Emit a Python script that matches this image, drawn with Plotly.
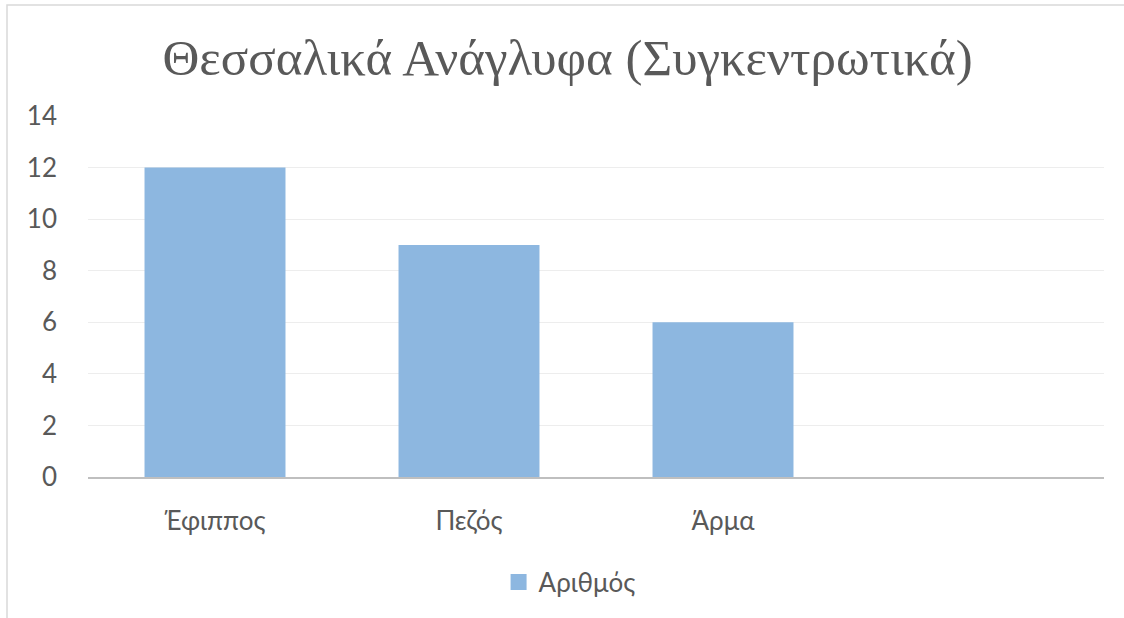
import plotly.graph_objects as go

categories = ["Έφιππος", "Πεζός", "Άρμα"]
values = [12, 9, 6]
series_name = "Αριθμός"
y_ticks = [0, 2, 4, 6, 8, 10, 12, 14]
title_text = "Θεσσαλικά Ανάγλυφα (Συγκεντρωτικά)"

sans = "Lato, 'Noto Sans', 'Liberation Sans', sans-serif"
grey = "#595959"
bar_color = "#8DB7E0"

fig = go.Figure()
fig.add_trace(go.Bar(
    x=categories, y=values, name=series_name,
    marker=dict(color=bar_color, line=dict(width=0)),
    showlegend=False,
))
# legend-only entry with a larger square swatch
fig.add_trace(go.Scatter(
    x=[None], y=[None], mode="markers", name=series_name,
    marker=dict(symbol="square", size=19, color=bar_color),
    showlegend=True,
))

fig.update_layout(
    width=1124, height=618,
    margin=dict(l=88, r=20, t=116, b=141),
    paper_bgcolor="white", plot_bgcolor="white",
    bargap=0.445,
    title=dict(text=title_text, x=0.505, xref="container", xanchor="center",
               y=1 - 57 / 618, yref="container", yanchor="middle",
               font=dict(family="'Liberation Serif', 'DejaVu Serif', serif", size=51, color=grey)),
    font=dict(family=sans, size=26, color=grey),
    xaxis=dict(
        type="category", range=[-0.5, 3.5],
        showgrid=False, showline=True, linecolor="#BFBFBF", linewidth=2,
        ticks="", ticklabelstandoff=20,
        tickfont=dict(family=sans, size=26, color=grey),
        fixedrange=True,
    ),
    yaxis=dict(
        range=[0, 14], tickvals=y_ticks,
        showgrid=True, gridcolor="#EDEDED", gridwidth=1,
        zeroline=False, showline=False, ticks="",
        ticklabelstandoff=30,
        tickfont=dict(family=sans, size=26, color=grey),
    ),
    legend=dict(orientation="h", x=0.474, xanchor="center", y=-0.291, yanchor="middle",
                font=dict(family=sans, size=26, color=grey), itemsizing="trace",
                itemwidth=30),
    shapes=[dict(type="rect", xref="paper", yref="paper",
                 x0=(7 - 88) / 1016, x1=1.05, y0=-0.6, y1=(477 - 5) / 361,
                 line=dict(color="#D9D9D9", width=1.5), fillcolor="rgba(0,0,0,0)", layer="below")],
)

fig.write_html("out.html", config={"displayModeBar": False},
               post_script="document.body.style.margin='0';document.body.style.padding='0';")
